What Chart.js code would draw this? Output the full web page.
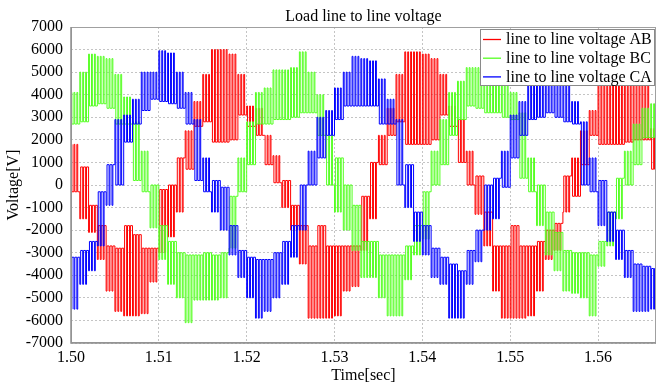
<!DOCTYPE html>
<html>
<head>
<meta charset="utf-8">
<script src="https://cdn.jsdelivr.net/npm/chart.js@4.4.1/dist/chart.umd.min.js"></script>
<style>
  html, body { margin: 0; padding: 0; background: #ffffff; }
  #c { display: block; }
</style>
</head>
<body>
<canvas id="c" width="659" height="385"></canvas>
<script>
// ---- data (sample every 1 ms: low / high edge of the switching band) ----
const times = [1.500,1.501,1.502,1.503,1.504,1.505,1.506,1.507,1.508,1.509,
               1.510,1.511,1.512,1.513,1.514,1.515,1.516,1.517,1.518,1.519,
               1.520,1.521,1.522,1.523,1.524,1.525,1.526,1.527,1.528,1.529,
               1.530,1.531,1.532,1.533,1.534,1.535,1.536,1.537,1.538,1.539,
               1.540,1.541,1.542,1.543,1.544,1.545,1.546,1.547,1.548,1.549,
               1.550,1.551,1.552,1.553,1.554,1.555,1.556,1.557,1.558,1.559,
               1.560,1.561,1.562,1.563,1.564,1.565,1.566];

const abLow  = [-300,-1500,-2100,-3300,-4700,-5600,-5800,-5800,-5700,-4300,
                -3000,-2300,-1200,700,2600,2800,1900,1900,2000,3100,
                2600,2200,900,100,-1000,-2000,-3500,-5900,-5900,-5900,
                -5800,-4700,-4500,-2900,-1500,900,2200,2800,1800,1800,
                1800,2000,3100,2600,1000,0,-1300,-2700,-4700,-5900,
                -5900,-5900,-5800,-4700,-3300,-2900,-1200,-500,900,2200,
                1800,1800,1800,1900,2000,2000,700];
const abHigh = [1800,800,-900,-1800,-2700,-2800,-1800,-2200,-2800,-2800,
                -200,0,1200,2400,3700,4900,6000,6000,5800,4900,
                3500,3400,2200,1300,200,-900,-1800,-2700,-1800,-2700,
                -2700,-2700,-2700,-500,1000,2200,3400,4900,5900,5900,
                5800,5600,4900,3500,2900,1500,400,-1200,-2700,-2700,
                -1800,-2700,-2700,-2500,-2000,-1700,400,1200,2400,3300,
                5500,6000,6000,5900,5700,4500,2500];

const bcLow  = [2700,2800,3500,3600,3400,2700,2700,200,-300,-1900,
                -3300,-4400,-5000,-6100,-5100,-5100,-5100,-5000,-2800,-300,
                900,2700,2700,2900,2900,3000,3200,3200,2200,0,
                -1200,-2000,-2900,-4100,-4100,-5000,-5800,-5800,-4200,-3100,
                -2400,0,900,2200,2900,3500,3400,3200,3200,3000,
                2900,300,-300,-1800,-3100,-3800,-4700,-4800,-5000,-5800,
                -3600,-2700,-1500,0,900,2100,2100];
const bcHigh = [4100,5000,5800,5700,5600,4900,3900,2800,1500,0,
                -1800,-2500,-3000,-3100,-3100,-3000,-3100,-3000,-500,1200,
                2800,4100,4300,5100,5100,5200,5900,5000,4000,2200,
                1200,0,-900,-2500,-2500,-3100,-3100,-3100,-2700,-1800,
                -300,1500,2900,4100,4600,5200,5200,5600,5800,5400,
                4100,3200,1200,0,-1200,-2100,-2900,-3000,-3000,-3100,
                -2500,-1200,300,1500,2700,3400,3600];

const caLow  = [-5500,-4400,-3800,-2700,-900,0,1900,2700,3300,3800,
                3700,3600,3400,2700,200,-300,-1200,-2000,-3100,-4100,
                -5000,-5900,-5600,-5000,-4400,-3200,-2000,0,1200,2200,
                2900,3500,3500,3500,3500,2700,2700,0,-1000,-2500,
                -3100,-4100,-4400,-5900,-5900,-4400,-3400,-2000,-1500,-100,
                1200,2200,2900,3000,3200,3000,2800,2700,0,-300,
                -1800,-2500,-3300,-4100,-5600,-5600,-5500];
const caHigh = [-3200,-2900,-2500,-300,900,2900,3100,3800,5000,5000,
                5950,5850,5000,4100,2900,1200,200,-100,-1800,-2900,
                -3200,-3300,-3300,-3000,-2500,-1800,0,1500,3000,3300,
                4300,5000,5700,5600,5500,4700,3800,2900,900,-1200,
                -1800,-2800,-3200,-3500,-3800,-2900,-2000,0,300,1500,
                3100,3700,4900,5000,5500,5500,5000,3700,2800,1200,
                200,-1200,-2000,-2900,-3500,-3600,-3700];

const xTicks = [1.50, 1.51, 1.52, 1.53, 1.54, 1.55, 1.56];
const yTicks = [-7000,-6000,-5000,-4000,-3000,-2000,-1000,0,1000,2000,3000,4000,5000,6000,7000];

const seriesNames = ['line to line voltage AB', 'line to line voltage BC', 'line to line voltage CA'];
const seriesColors = ['#ff0000', '#55ff22', '#0000ff'];
const chartTitle = 'Load line to line voltage';
const xTitle = 'Time[sec]';
const yTitle = 'Voltage[V]';

// ---- build the switching waveform: narrow carrier pulses from the resting level ----
const PULSES_PER_SAMPLE = 3;
const SAMPLE_STEP = 0.001;
const DUTY = 0.3;
function pwm(lo, hi) {
  const pts = [];
  const period = SAMPLE_STEP / PULSES_PER_SAMPLE;
  times.forEach((t, i) => {
    // the level nearer to zero is the resting level, the other one is pulsed to
    const base = Math.abs(lo[i]) < Math.abs(hi[i]) ? lo[i] : hi[i];
    const peak = base === lo[i] ? hi[i] : lo[i];
    for (let k = 0; k < PULSES_PER_SAMPLE; k++) {
      pts.push({ x: t + k * period, y: peak });
      pts.push({ x: t + (k + DUTY) * period, y: base });
    }
  });
  return pts;
}

const FONT = "'Liberation Serif', 'Times New Roman', serif";

const overlayPlugin = {
  id: 'overlay',
  afterDatasetsDraw(chart) {
    const { ctx, chartArea: a } = chart;
    ctx.save();
    // frame
    ctx.strokeStyle = '#a0a0a0';
    ctx.lineWidth = 1;
    ctx.strokeRect(a.left + 0.5, a.top + 0.5, a.right - a.left - 1, a.bottom - a.top - 1);
    ctx.strokeStyle = '#909090';
    ctx.lineWidth = 1.5;
    ctx.beginPath();
    ctx.moveTo(a.left, a.top);
    ctx.lineTo(a.left, a.bottom);
    ctx.lineTo(a.right, a.bottom);
    ctx.stroke();
    // title centred over the plot area
    ctx.fillStyle = '#000';
    ctx.font = '16px ' + FONT;
    ctx.textAlign = 'center';
    ctx.textBaseline = 'alphabetic';
    ctx.fillText(chartTitle, (a.left + a.right) / 2, 21);
    // legend box inside the plot area (top right)
    const bx = 480, by = 29, bw = 175, bh = 57;
    ctx.fillStyle = '#ffffff';
    ctx.fillRect(bx, by, bw, bh);
    ctx.strokeStyle = '#8a8a8a';
    ctx.lineWidth = 1;
    ctx.strokeRect(bx + 0.5, by + 0.5, bw - 1, bh - 1);
    chart.data.datasets.forEach((ds, i) => {
      const y = 39.5 + i * 18.7;
      ctx.strokeStyle = ds.borderColor;
      ctx.lineWidth = 1.3;
      ctx.beginPath();
      ctx.moveTo(483, y);
      ctx.lineTo(501, y);
      ctx.stroke();
      ctx.fillStyle = '#000';
      ctx.textAlign = 'left';
      ctx.textBaseline = 'middle';
      ctx.font = '16px ' + FONT;
      ctx.fillText(ds.label, 506, y + 0.5);
    });
    ctx.restore();
  }
};

const ctx = document.getElementById('c').getContext('2d');
new Chart(ctx, {
  type: 'line',
  data: {
    datasets: [
      { label: seriesNames[0], data: pwm(abLow, abHigh), borderColor: seriesColors[0], order: 2 },
      { label: seriesNames[1], data: pwm(bcLow, bcHigh), borderColor: seriesColors[1], order: 1 },
      { label: seriesNames[2], data: pwm(caLow, caHigh), borderColor: seriesColors[2], order: 0 }
    ]
  },
  options: {
    responsive: false,
    animation: false,
    devicePixelRatio: 1,
    parsing: false,
    normalized: true,
    datasets: { line: { stepped: true, borderWidth: 1, pointRadius: 0, fill: false, tension: 0 } },
    layout: { padding: { top: 27, right: 3, left: 0, bottom: 0 } },
    plugins: { legend: { display: false }, title: { display: false }, tooltip: { enabled: false } },
    scales: {
      x: {
        type: 'linear', min: 1.5, max: 1.5666,
        afterBuildTicks: s => { s.ticks = xTicks.map(v => ({ value: v })); },
        afterFit: s => { s.height = 42; },
        ticks: { callback: v => Number(v).toFixed(2), color: '#000', font: { family: FONT, size: 16 }, padding: 5, maxRotation: 0, autoSkip: false },
        grid: { color: '#c4c4c4', lineWidth: 1, drawTicks: false },
        border: { display: false, dash: [2, 2] },
        title: { display: true, text: xTitle, color: '#000', font: { family: FONT, size: 16 }, padding: { top: 0, bottom: 0 } }
      },
      y: {
        type: 'linear', min: -7000, max: 7000,
        afterBuildTicks: s => { s.ticks = yTicks.map(v => ({ value: v })); },
        afterFit: s => { s.width = 71; },
        ticks: { callback: v => String(v), color: '#000', font: { family: FONT, size: 16 }, padding: 8, autoSkip: false },
        grid: { color: '#c4c4c4', lineWidth: 1, drawTicks: false },
        border: { display: false, dash: [2, 2] },
        title: { display: true, text: yTitle, color: '#000', font: { family: FONT, size: 16 }, padding: { top: 4, bottom: 0 } }
      }
    }
  },
  plugins: [overlayPlugin]
});
</script>
</body>
</html>
